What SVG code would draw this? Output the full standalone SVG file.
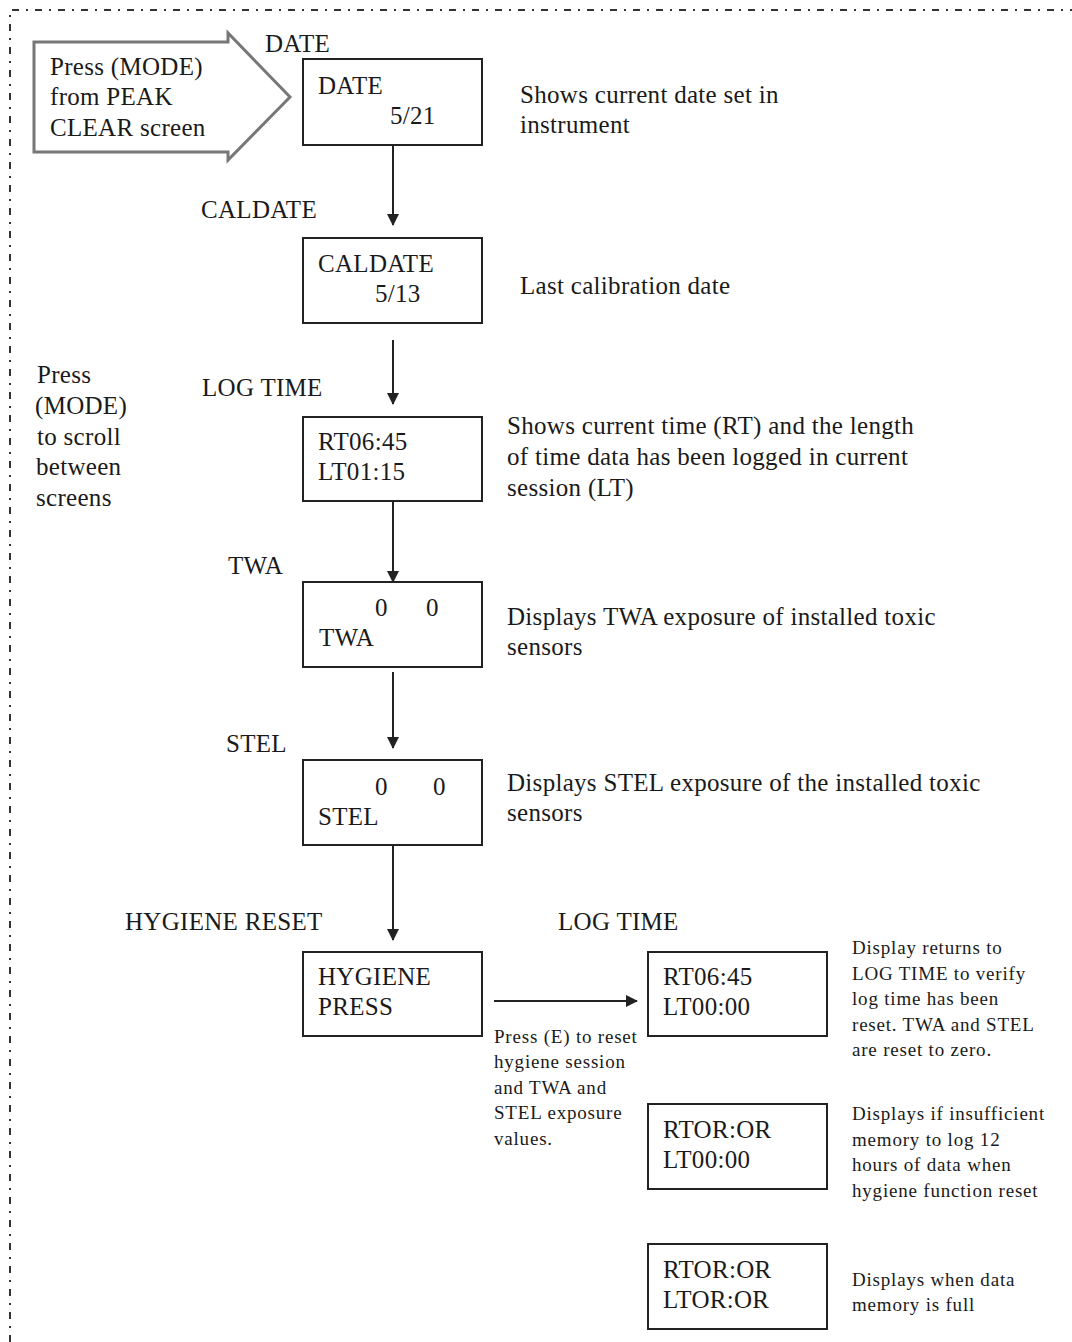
<svg xmlns="http://www.w3.org/2000/svg" width="1072" height="1342" viewBox="0 0 1072 1342">
<defs>
<marker id="ah" markerWidth="12" markerHeight="12" refX="11" refY="6" orient="auto" markerUnits="userSpaceOnUse">
<path d="M0,0 L12,6 L0,12 Z" fill="#222"/>
</marker>
<style>
text{font-family:"Liberation Serif","Times New Roman",serif;fill:#1a1a1a;}
.t{font-size:25px;letter-spacing:0.3px;}
.s{font-size:19px;letter-spacing:0.8px;}
.box{fill:#fff;stroke:#222;stroke-width:2;}
.con{stroke:#222;stroke-width:2;fill:none;marker-end:url(#ah);}
</style>
</defs>
<rect width="1072" height="1342" fill="#fff"/>
<path d="M10,1342 L10,10 L1072,10" fill="none" stroke="#333" stroke-width="2" stroke-dasharray="7 7 2 7"/>

<g id="start-arrow">
<path d="M34,42 L228,42 L228,33 L290,97 L228,160 L228,152 L34,152 Z" fill="#fff" stroke="#777" stroke-width="3"/>
<text class="t" x="50" y="75">Press (MODE)</text>
<text class="t" x="50" y="105">from PEAK</text>
<text class="t" x="50" y="136">CLEAR screen</text>
</g>

<g id="scroll-note">
<text class="t" x="37" y="383">Press</text>
<text class="t" x="35" y="414">(MODE)</text>
<text class="t" x="37" y="445">to scroll</text>
<text class="t" x="36" y="475">between</text>
<text class="t" x="36" y="506">screens</text>
</g>

<g id="date">
<text class="t" x="265" y="52">DATE</text>
<rect class="box" x="303" y="59" width="179" height="86"/>
<text class="t" x="318" y="94">DATE</text>
<text class="t" x="390" y="124">5/21</text>
<text class="t" x="520" y="103">Shows current date set in</text>
<text class="t" x="520" y="133">instrument</text>
</g>

<g id="caldate">
<text class="t" x="201" y="218">CALDATE</text>
<rect class="box" x="303" y="238" width="179" height="85"/>
<text class="t" x="318" y="272">CALDATE</text>
<text class="t" x="375" y="302">5/13</text>
<text class="t" x="520" y="294">Last calibration date</text>
</g>

<g id="logtime">
<text class="t" x="202" y="396">LOG TIME</text>
<rect class="box" x="303" y="417" width="179" height="84"/>
<text class="t" x="318" y="450">RT06:45</text>
<text class="t" x="318" y="480">LT01:15</text>
<text class="t" x="507" y="434">Shows current time (RT) and the length</text>
<text class="t" x="507" y="465">of time data has been logged in current</text>
<text class="t" x="507" y="496">session (LT)</text>
</g>

<g id="twa">
<text class="t" x="228" y="574">TWA</text>
<rect class="box" x="303" y="582" width="179" height="85"/>
<text class="t" x="375" y="616">0</text>
<text class="t" x="426" y="616">0</text>
<text class="t" x="319" y="646">TWA</text>
<text class="t" x="507" y="625">Displays TWA exposure of installed toxic</text>
<text class="t" x="507" y="655">sensors</text>
</g>

<g id="stel">
<text class="t" x="226" y="752">STEL</text>
<rect class="box" x="303" y="760" width="179" height="85"/>
<text class="t" x="375" y="795">0</text>
<text class="t" x="433" y="795">0</text>
<text class="t" x="318" y="825">STEL</text>
<text class="t" x="507" y="791">Displays STEL exposure of the installed toxic</text>
<text class="t" x="507" y="821">sensors</text>
</g>

<g id="hygiene">
<text class="t" x="125" y="930">HYGIENE RESET</text>
<rect class="box" x="303" y="952" width="179" height="84"/>
<text class="t" x="318" y="985">HYGIENE</text>
<text class="t" x="318" y="1015">PRESS</text>
</g>

<g id="reset-note">
<text class="s" x="494" y="1043">Press (E) to reset</text>
<text class="s" x="494" y="1068">hygiene session</text>
<text class="s" x="494" y="1094">and TWA and</text>
<text class="s" x="494" y="1119">STEL exposure</text>
<text class="s" x="494" y="1145">values.</text>
</g>

<g id="logtime-reset">
<text class="t" x="558" y="930">LOG TIME</text>
<rect class="box" x="648" y="952" width="179" height="84"/>
<text class="t" x="663" y="985">RT06:45</text>
<text class="t" x="663" y="1015">LT00:00</text>
<text class="s" x="852" y="954">Display returns to</text>
<text class="s" x="852" y="980">LOG TIME to verify</text>
<text class="s" x="852" y="1005">log time has been</text>
<text class="s" x="852" y="1031">reset.  TWA and STEL</text>
<text class="s" x="852" y="1056">are reset to zero.</text>
</g>

<g id="insufficient">
<rect class="box" x="648" y="1104" width="179" height="85"/>
<text class="t" x="663" y="1138">RTOR:OR</text>
<text class="t" x="663" y="1168">LT00:00</text>
<text class="s" x="852" y="1120">Displays if insufficient</text>
<text class="s" x="852" y="1146">memory to log 12</text>
<text class="s" x="852" y="1171">hours of data when</text>
<text class="s" x="852" y="1197">hygiene function reset</text>
</g>

<g id="full">
<rect class="box" x="648" y="1244" width="179" height="85"/>
<text class="t" x="663" y="1278">RTOR:OR</text>
<text class="t" x="663" y="1308">LTOR:OR</text>
<text class="s" x="852" y="1286">Displays when data</text>
<text class="s" x="852" y="1311">memory is full</text>
</g>

<g id="connectors">
<line class="con" x1="393" y1="145" x2="393" y2="225"/>
<line class="con" x1="393" y1="340" x2="393" y2="404"/>
<line class="con" x1="393" y1="501" x2="393" y2="582"/>
<line class="con" x1="393" y1="672" x2="393" y2="748"/>
<line class="con" x1="393" y1="845" x2="393" y2="940"/>
<line class="con" x1="494" y1="1001" x2="637" y2="1001"/>
</g>
</svg>
